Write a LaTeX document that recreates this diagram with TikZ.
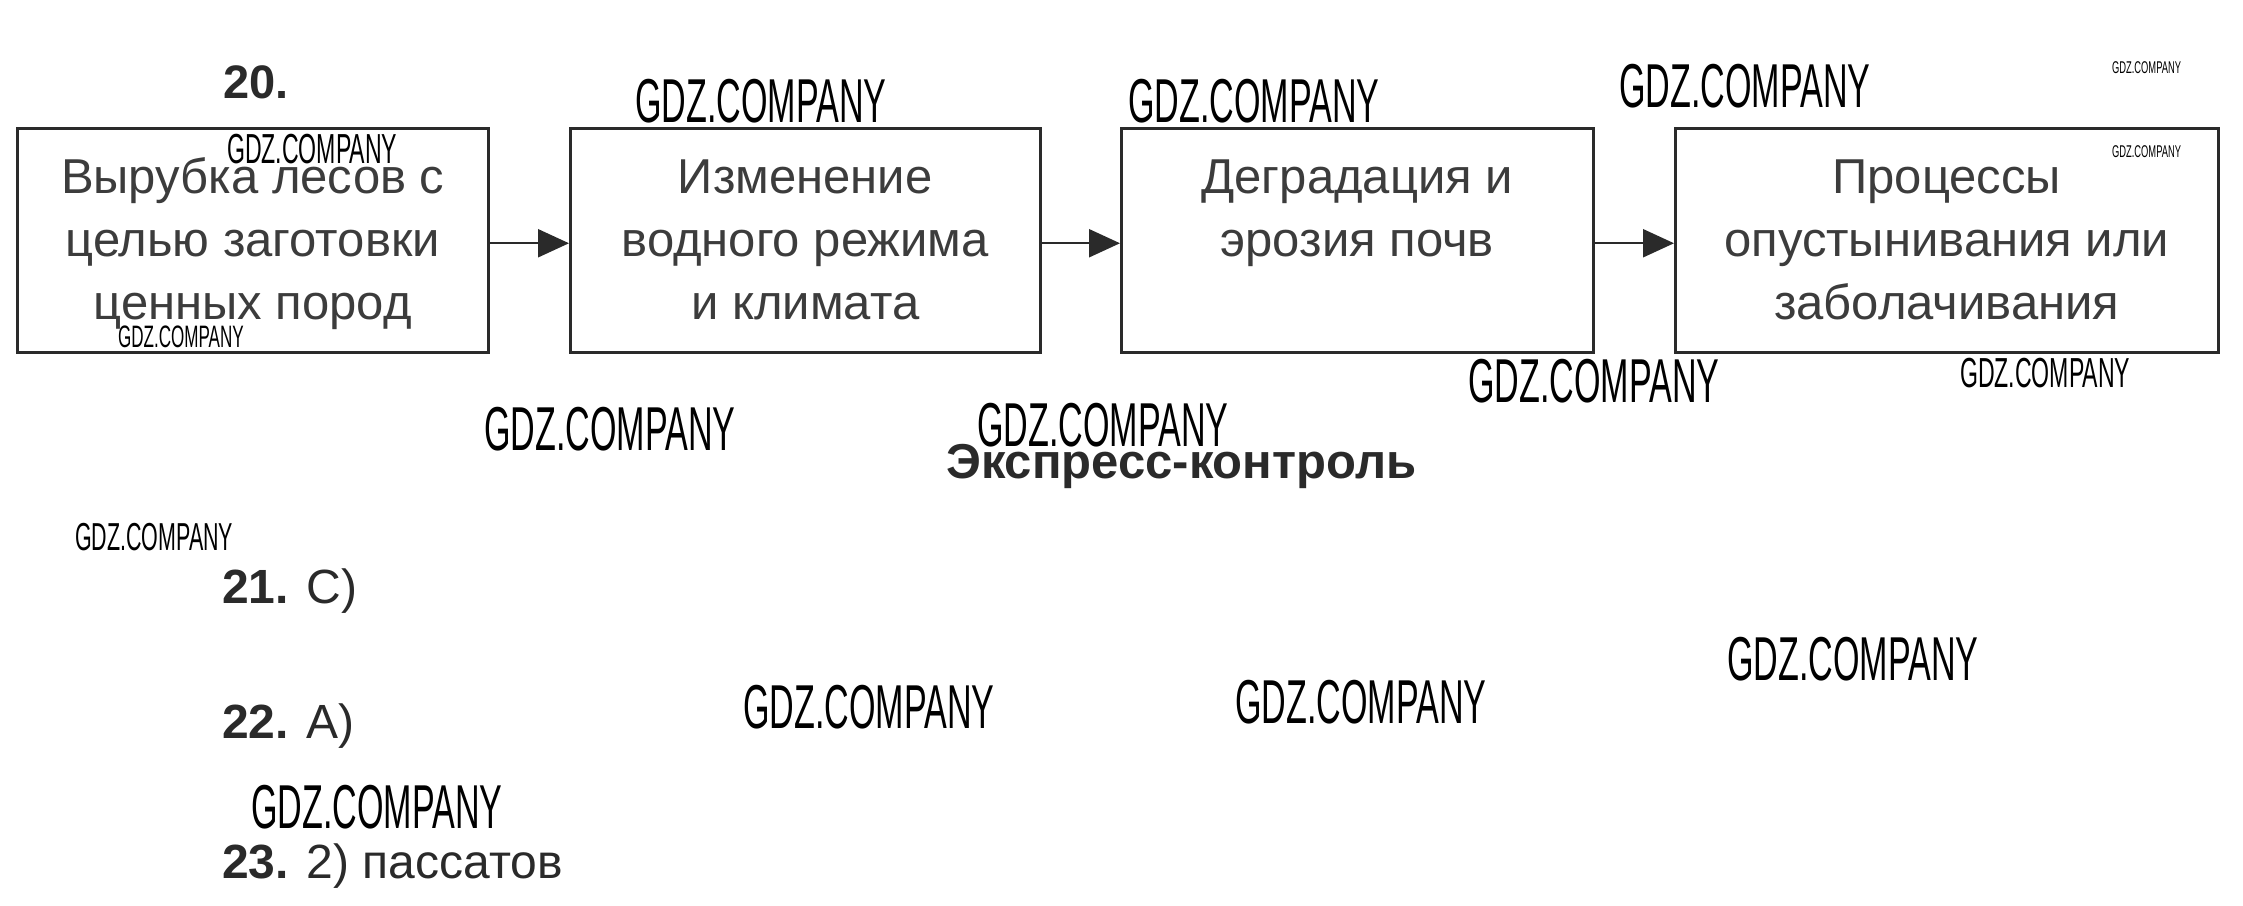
\documentclass[tikz,border=0pt]{standalone}
\usepackage{fontspec}
\setmainfont{Liberation Sans}
\newfontfamily\wmf{Liberation Sans}
\usetikzlibrary{arrows.meta}
\definecolor{txt}{HTML}{3C3C3C}
\definecolor{dark}{HTML}{2A2A2A}
\newcommand{\boxtext}[2]{\parbox[c][224pt][t]{#1pt}{\centering\rule{0pt}{65pt}#2}}
\begin{document}
\begin{tikzpicture}[x=1pt,y=-1pt,
  stepbox/.style={draw=dark, line width=2.5pt, inner sep=0pt, anchor=north west,
    text=txt, font=\fontsize{49}{63}\selectfont},
  arr/.style={draw=dark, line width=2.2pt, -{Triangle[length=31pt,width=28pt]}},
  num/.style={inner sep=0pt, anchor=base west, text=dark},
  wm/.style={inner sep=0pt, anchor=base west, xscale=0.55, text=black},
  wmL/.style={wm, font=\fontsize{62}{62}\selectfont\wmf},
  wmM/.style={wm, font=\fontsize{42}{42}\selectfont\wmf},
  wmN/.style={wm, font=\fontsize{31}{31}\selectfont\wmf},
  wmS/.style={wm, font=\fontsize{17}{17}\selectfont\wmf}]
\fill[white] (0,0) rectangle (2243,905);
\useasboundingbox (0,0) rectangle (2243,905);

\node[num, font=\fontsize{47}{47}\selectfont\bfseries] (n20) at (223,98) {20.};

\node[stepbox] (b1) at (16,127) {\boxtext{471}{Вырубка лесов с\\целью заготовки\\ценных пород}};
\node[stepbox] (b2) at (569,127) {\boxtext{470}{Изменение\\водного режима\\и климата}};
\node[stepbox] (b3) at (1120,127) {\boxtext{472}{Деградация и\\эрозия почв}};
\node[stepbox] (b4) at (1674,127) {\boxtext{543}{Процессы\\опустынивания или\\заболачивания}};

\draw[arr] ([yshift=-3pt]b1.east) -- ([yshift=-3pt]b2.west);
\draw[arr] ([yshift=-3pt]b2.east) -- ([yshift=-3pt]b3.west);
\draw[arr] ([yshift=-3pt]b3.east) -- ([yshift=-3pt]b4.west);

\node[num, font=\fontsize{49}{49}\selectfont\bfseries] (title) at (946,478) {Экспресс-контроль};

\node[num, font=\fontsize{48}{48}\selectfont] (q21) at (222,603) {\textbf{21.} С)};
\node[num, font=\fontsize{48}{48}\selectfont] (q22) at (222,738) {\textbf{22.} А)};
\node[num, font=\fontsize{48}{48}\selectfont] (q23) at (222,878) {\textbf{23.} 2) пассатов};

% watermarks
\node[wmL] (w1) at (635,122) {GDZ.COMPANY};
\node[wmL] (w2) at (1128,122) {GDZ.COMPANY};
\node[wmL] (w3) at (1619,107) {GDZ.COMPANY};
\node[wmL] (w8) at (1468,402) {GDZ.COMPANY};
\node[wmL] (w10) at (484,450) {GDZ.COMPANY};
\node[wmL] (w11) at (977,446) {GDZ.COMPANY};
\node[wmL] (w13) at (743,728) {GDZ.COMPANY};
\node[wmL] (w14) at (1235,723) {GDZ.COMPANY};
\node[wmL] (w15) at (1727,680) {GDZ.COMPANY};
\node[wmL] (w16) at (251,828) {GDZ.COMPANY};
\node[wmM] (w6) at (227,163) {GDZ.COMPANY};
\node[wmM] (w9) at (1960,387) {GDZ.COMPANY};
\node[wmM, font=\fontsize{39}{39}\selectfont\wmf] (w12) at (75,550) {GDZ.COMPANY};
\node[wmN] (w7) at (118,347) {GDZ.COMPANY};
\node[wmS] (w4) at (2112,73) {GDZ.COMPANY};
\node[wmS] (w5) at (2112,157) {GDZ.COMPANY};
\end{tikzpicture}
\end{document}
